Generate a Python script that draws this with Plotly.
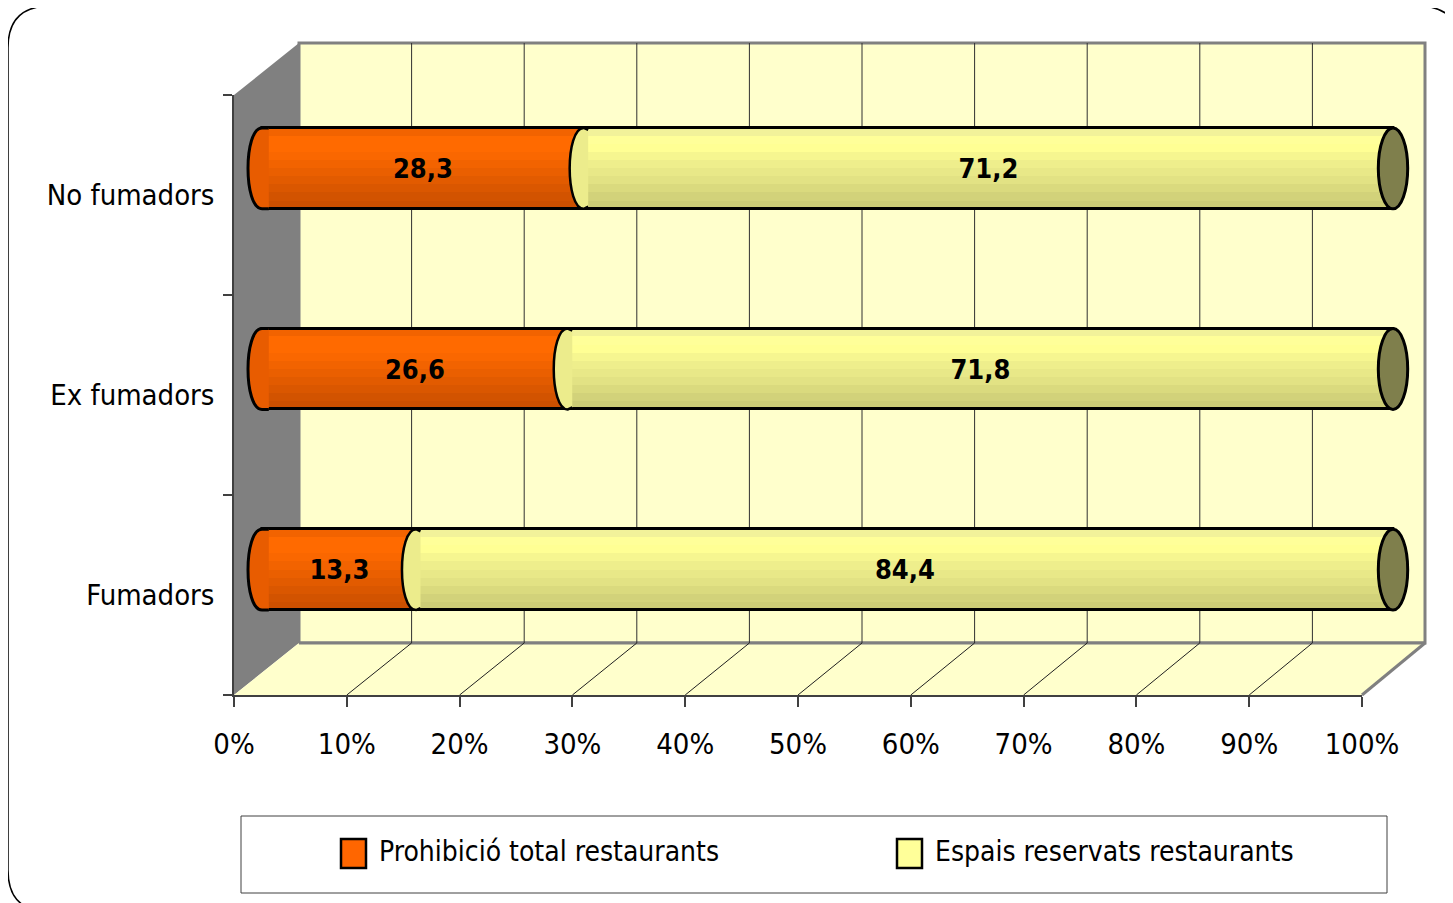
import plotly.graph_objects as go

# ---------------- data ----------------
categories = ["Fumadors", "Ex fumadors", "No fumadors"]          # bottom -> top
series_names = ["Prohibició total restaurants", "Espais reservats restaurants"]
prohibicio = [13.3, 26.6, 28.3]
espais = [84.4, 71.8, 71.2]
x_ticks = [0, 10, 20, 30, 40, 50, 60, 70, 80, 90, 100]

# ---------------- styling ----------------
W, H = 1453, 903
OFF = 8   # default page margin of the html body
FONT = "Liberation Sans Narrow, Arial Narrow, DejaVu Sans Condensed, sans-serif"
orange_bands = ['#F26300', '#FF6A00', '#FF6A00', '#FA6700', '#F26300',
                '#EA5F00', '#E25B00', '#DA5700', '#D25300', '#CC5000']
yellow_bands = ['#F2F29A', '#FFFF99', '#FFFF94', '#F6F690', '#EEEE8C',
                '#E8E888', '#E2E284', '#DADA7E', '#D2D27A', '#CCCC76']
cap_color = '#7F7F4C'
wall = '#FFFFCC'
side = '#808080'


def px(x):
    return (x - OFF) / W


def py(y):
    return 1 - (y - OFF) / H


# normalise (100% stacked)
totals = [a + b for a, b in zip(prohibicio, espais)]
n1 = [a / t for a, t in zip(prohibicio, totals)]
n2 = [b / t for b, t in zip(espais, totals)]
ypos = list(range(len(categories)))

BW = 0.403  # bar thickness in category units
fig = go.Figure()

# gradient bands (cylinder shading)
nb = len(orange_bands)
for series, base, cols in [(n1, [0] * 3, orange_bands), (n2, n1, yellow_bands)]:
    for i, c in enumerate(cols):
        fig.add_trace(go.Bar(
            x=series, y=ypos, base=base, orientation='h',
            width=BW / nb * 1.02, offset=BW / 2 - (i + 1) * BW / nb,
            marker=dict(color=c, line=dict(width=0)),
            showlegend=False, hoverinfo='skip'))

# overall outline
fig.add_trace(go.Bar(
    x=[a + b for a, b in zip(n1, n2)], y=ypos, base=[0] * 3, orientation='h',
    width=BW, offset=-BW / 2,
    marker=dict(color='rgba(0,0,0,0)', line=dict(color='black', width=3)),
    showlegend=False, hoverinfo='skip'))

# value labels
for series, base, raw, name in [(n1, [0] * 3, prohibicio, series_names[0]),
                                (n2, n1, espais, series_names[1])]:
    fig.add_trace(go.Bar(
        x=series, y=ypos, base=base, orientation='h', width=BW, offset=-BW / 2,
        marker=dict(color='rgba(0,0,0,0)', line=dict(width=0)),
        text=[f"{v:.1f}".replace('.', ',') for v in raw],
        textposition='inside', insidetextanchor='middle',
        textfont=dict(family=FONT, size=27, color='black', weight='bold'),
        name=name, showlegend=False, hoverinfo='skip'))

shapes = []
# ---- 3D frame (decoration) ----
FX0, FX1, FY = 234, 1362, 695      # front axis
BX0, BX1, BY0, BY1 = 299, 1425, 43, 643  # back wall
shapes.append(dict(type='rect', xref='paper', yref='paper', layer='below',
                   x0=px(BX0), x1=px(BX1), y0=py(BY1), y1=py(BY0),
                   fillcolor=wall, line=dict(color=side, width=3)))
shapes.append(dict(type='path', xref='paper', yref='paper', layer='below',
                   path=f"M{px(FX0)},{py(95)} L{px(BX0)},{py(BY0)} L{px(BX0)},{py(BY1)} L{px(FX0)},{py(FY)} Z",
                   fillcolor=side, line=dict(width=0)))
shapes.append(dict(type='path', xref='paper', yref='paper', layer='below',
                   path=f"M{px(FX0)},{py(FY)} L{px(BX0)},{py(BY1)} L{px(BX1)},{py(BY1)} L{px(FX1)},{py(FY)} Z",
                   fillcolor=wall, line=dict(width=0)))
shapes.append(dict(type='line', xref='paper', yref='paper', layer='below',
                   x0=px(BX0), x1=px(BX1), y0=py(BY1), y1=py(BY1),
                   line=dict(color=side, width=3)))
shapes.append(dict(type='line', xref='paper', yref='paper', layer='below',
                   x0=px(FX1), x1=px(BX1), y0=py(FY), y1=py(BY1),
                   line=dict(color=side, width=3)))
for v in x_ticks:
    bx = BX0 + v / 100 * (BX1 - BX0)
    fx = FX0 + v / 100 * (FX1 - FX0)
    if 0 < v < 100:
        shapes.append(dict(type='line', xref='paper', yref='paper', layer='below',
                           x0=px(bx), x1=px(bx), y0=py(BY1), y1=py(BY0),
                           line=dict(color='#303030', width=1)))
        shapes.append(dict(type='line', xref='paper', yref='paper', layer='below',
                           x0=px(fx), x1=px(bx), y0=py(FY), y1=py(BY1),
                           line=dict(color='#202020', width=1)))

# ---- cylinder caps / joints ----
A = 14 / 1131   # ellipse half-width in x units
h = BW / 2
k = 4 / 3 * A
d = 0.006
for yi, b in zip(ypos, n1):
    shapes.append(dict(type='path', xref='x', yref='y', layer='above',
                       path=f"M{d},{yi - h} L0,{yi - h} C{-k},{yi - h} {-k},{yi + h} 0,{yi + h} L{d},{yi + h}",
                       fillcolor='#E85C00', line=dict(color='black', width=3)))
    shapes.append(dict(type='path', xref='x', yref='y', layer='above',
                       path=f"M{b + 0.004},{yi - h + 0.01} L{b},{yi - h} C{b - k},{yi - h} {b - k},{yi + h} {b},{yi + h} L{b + 0.004},{yi + h - 0.01}",
                       fillcolor='#ECEC8C', line=dict(color='black', width=2.5)))
for yi, a, b in zip(ypos, n1, n2):
    t = a + b
    shapes.append(dict(type='circle', xref='x', yref='y', layer='above',
                       x0=t - A * 1.05, x1=t + A * 1.05, y0=yi - h, y1=yi + h,
                       fillcolor=cap_color, line=dict(color='black', width=3)))

# ---- outer rounded border ----
L, T, R, B, r = 8, 6, 1460, 912, 42
shapes.append(dict(type='path', xref='paper', yref='paper', layer='below',
                   path=(f"M{px(L + r)},{py(T)} L{px(R - r)},{py(T)} Q{px(R)},{py(T)} {px(R)},{py(T + r)} "
                         f"L{px(R)},{py(B - r)} Q{px(R)},{py(B)} {px(R - r)},{py(B)} "
                         f"L{px(L + r)},{py(B)} Q{px(L)},{py(B)} {px(L)},{py(B - r)} "
                         f"L{px(L)},{py(T + r)} Q{px(L)},{py(T)} {px(L + r)},{py(T)} Z"),
                   line=dict(color='black', width=1.5)))

# ---- custom legend ----
shapes.append(dict(type='rect', xref='paper', yref='paper',
                   x0=px(241), x1=px(1387), y0=py(893), y1=py(816),
                   fillcolor='white', line=dict(color='#404040', width=1)))
annotations = []
for (sx, tx), name, col in zip([(341, 377), (897, 933)], series_names, ['#FF6600', '#FFFF99']):
    shapes.append(dict(type='rect', xref='paper', yref='paper',
                       x0=px(sx), x1=px(sx + 25), y0=py(868), y1=py(839),
                       fillcolor=col, line=dict(color='black', width=2.5)))
    annotations.append(dict(xref='paper', yref='paper', x=px(tx), y=py(851),
                            xanchor='left', yanchor='middle', showarrow=False,
                            text=name, font=dict(family=FONT, size=28, color='black')))

X0PIX, X1PIX = 262, 1393   # pixel position of 0 and 1 on the bar axis
pad = 0.02
span = X1PIX - X0PIX
fig.update_layout(
    width=W, height=H, margin=dict(l=0, r=0, t=0, b=0, autoexpand=False),
    paper_bgcolor='white', plot_bgcolor='rgba(0,0,0,0)',
    barmode='overlay', bargap=0,
    shapes=shapes, annotations=annotations, showlegend=False,
    xaxis=dict(domain=[px(X0PIX - pad * span), px(X1PIX + pad * span)], range=[-pad, 1 + pad],
               visible=False, fixedrange=True, automargin=False),
    yaxis=dict(domain=[py(670), py(68)], range=[-0.5, 2.5], visible=False,
               fixedrange=True, automargin=False),
    xaxis2=dict(domain=[px(FX0), px(FX1)], range=[0, 100], anchor='y2', automargin=False,
                tickvals=x_ticks, ticktext=[f"{v}%" for v in x_ticks],
                ticks='outside', ticklen=10, tickcolor='#404040', tickwidth=1.5,
                showline=True, linecolor='#404040', linewidth=1.5,
                showgrid=False, zeroline=False, ticklabelstandoff=12,
                tickfont=dict(family=FONT, size=29, color='black')),
    yaxis2=dict(domain=[py(FY), py(95)], range=[-0.5, 2.5], anchor='x2', automargin=False,
                tickvals=ypos, ticktext=categories, ticks='',
                minor=dict(tickvals=[-0.5, 0.5, 1.5, 2.5], ticks='outside', ticklen=9,
                           tickcolor='#404040', tickwidth=1.5),
                showline=True, linecolor='#404040', linewidth=1.5,
                showgrid=False, zeroline=False, ticklabelstandoff=12,
                tickfont=dict(family=FONT, size=29, color='black')),
)
fig.add_trace(go.Scatter(x=[None], y=[None], xaxis='x2', yaxis='y2',
                         showlegend=False, hoverinfo='skip'))

fig.write_html("out.html")
